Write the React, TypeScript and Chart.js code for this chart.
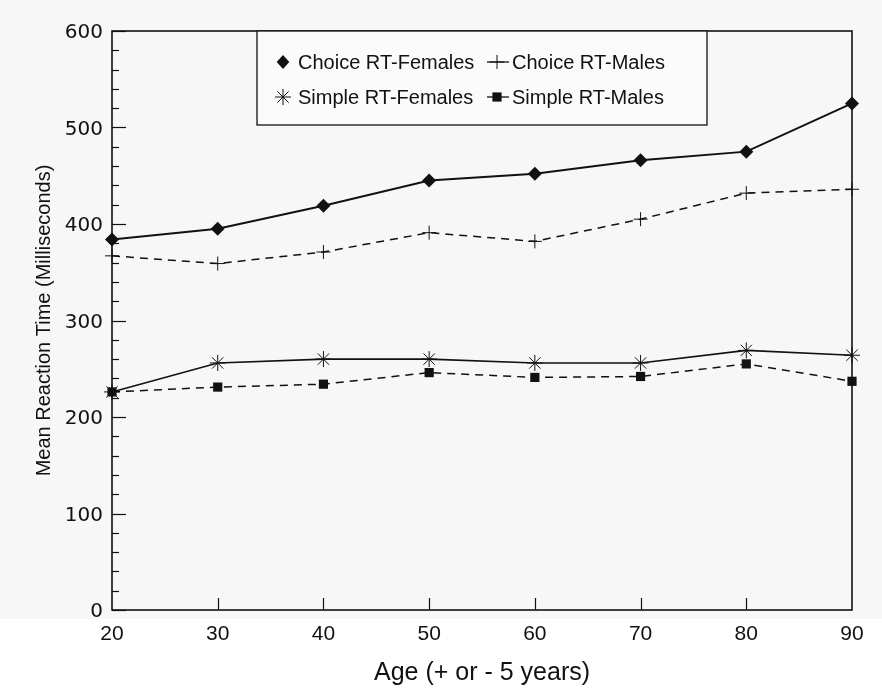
import React, { useEffect, useRef } from "react";
import { Chart, registerables } from "chart.js";

Chart.register(...registerables);

// ---- Data ----
const ages = [20, 30, 40, 50, 60, 70, 80, 90];
const choiceFemales = [384, 395, 419, 445, 452, 466, 475, 525];
const choiceMales = [367, 359, 371, 391, 382, 405, 432, 436];
const simpleFemales = [226, 256, 260, 260, 256, 256, 269, 264];
const simpleMales = [226, 231, 234, 246, 241, 242, 255, 237];
const seriesLabels = [
  "Choice RT-Females",
  "Choice RT-Males",
  "Simple RT-Females",
  "Simple RT-Males",
];
const yMin = 0;
const yMax = 600;
const yMajorStep = 100;
const yMinorStep = 20;
const xMin = 20;
const xMax = 90;
const xStep = 10;

const INK = "#111111";

function drawMarker(ctx: CanvasRenderingContext2D, style: string, x: number, y: number, r: number) {
  ctx.save();
  ctx.fillStyle = INK;
  ctx.strokeStyle = INK;
  ctx.setLineDash([]);
  ctx.beginPath();
  if (style === "rectRot") {
    ctx.moveTo(x, y - r);
    ctx.lineTo(x + r * 0.9, y);
    ctx.lineTo(x, y + r);
    ctx.lineTo(x - r * 0.9, y);
    ctx.closePath();
    ctx.fill();
  } else if (style === "cross") {
    ctx.lineWidth = 1;
    ctx.moveTo(x - r, y);
    ctx.lineTo(x + r, y);
    ctx.moveTo(x, y - r);
    ctx.lineTo(x, y + r);
    ctx.stroke();
  } else if (style === "star") {
    ctx.lineWidth = 1;
    ctx.moveTo(x - r, y);
    ctx.lineTo(x + r, y);
    ctx.moveTo(x, y - r);
    ctx.lineTo(x, y + r);
    const d = r * Math.SQRT1_2;
    ctx.moveTo(x - d, y - d);
    ctx.lineTo(x + d, y + d);
    ctx.moveTo(x - d, y + d);
    ctx.lineTo(x + d, y - d);
    ctx.stroke();
  } else {
    const s = r * Math.SQRT1_2;
    ctx.fillRect(x - s, y - s, 2 * s, 2 * s);
  }
  ctx.restore();
}

const framePlugin = {
  id: "frame",
  beforeDraw(chart: any) {
    const ctx = chart.ctx as CanvasRenderingContext2D;
    ctx.save();
    ctx.fillStyle = "#ffffff";
    ctx.fillRect(0, 0, chart.width, chart.height);
    ctx.fillStyle = "#f7f7f7";
    ctx.fillRect(0, 0, chart.width, 619);
    ctx.restore();
  },
  afterDraw(chart: any) {
    const ctx = chart.ctx as CanvasRenderingContext2D;
    const { left, right, top, bottom } = chart.chartArea;
    const xs = chart.scales.x;
    const ys = chart.scales.y;
    ctx.save();
    ctx.strokeStyle = INK;
    ctx.setLineDash([]);
    // inward ticks on y
    ctx.lineWidth = 1.2;
    for (let v = yMin; v <= yMax; v += yMinorStep) {
      const py = Math.round(ys.getPixelForValue(v)) + 0.5;
      const len = v % yMajorStep === 0 ? 14 : 7;
      ctx.beginPath();
      ctx.moveTo(left, py);
      ctx.lineTo(left + len, py);
      ctx.stroke();
    }
    // inward ticks on x
    for (let v = xMin + xStep; v < xMax; v += xStep) {
      const px = Math.round(xs.getPixelForValue(v)) + 0.5;
      ctx.beginPath();
      ctx.moveTo(px, bottom);
      ctx.lineTo(px, bottom - 12);
      ctx.stroke();
    }
    // frame
    ctx.lineWidth = 1.6;
    ctx.strokeRect(left, top, right - left, bottom - top);

    // legend box
    const lx = 257;
    const ly = top;
    const lw = 450;
    const lh = 94;
    ctx.fillStyle = "#fbfbfb";
    ctx.fillRect(lx, ly, lw, lh);
    ctx.lineWidth = 1.3;
    ctx.strokeRect(lx, ly, lw, lh);
    const cols = [lx + 26, lx + 240];
    const rows = [ly + 31, ly + 66];
    ctx.font = "20px 'Liberation Sans', Arial, sans-serif";
    ctx.textBaseline = "middle";
    ctx.textAlign = "left";
    chart.data.datasets.forEach((ds: any, i: number) => {
      const cx = cols[i % 2];
      const cy = rows[Math.floor(i / 2)];
      if (ds.borderDash && ds.borderDash.length) {
        ctx.save();
        ctx.strokeStyle = INK;
        ctx.lineWidth = 1.3;
        ctx.beginPath();
        ctx.moveTo(cx - 10, cy);
        ctx.lineTo(cx + 12, cy);
        ctx.stroke();
        ctx.restore();
      }
      drawMarker(ctx, ds.pointStyle, cx, cy, ds.pointRadius);
      ctx.fillStyle = INK;
      ctx.fillText(ds.label, cx + 15, cy + 1);
    });
    ctx.restore();
  },
};

function toPoints(vals: number[]) {
  return ages.map((a, i) => ({ x: a, y: vals[i] }));
}

export default function App() {
  const ref = useRef<HTMLCanvasElement | null>(null);
  useEffect(() => {
    if (!ref.current) return;
    const common = {
      borderColor: INK,
      backgroundColor: INK,
      pointBorderColor: INK,
      pointBackgroundColor: INK,
      clip: false as any,
      tension: 0,
    };
    const chart = new Chart(ref.current, {
      type: "line",
      data: {
        datasets: [
          { ...common, label: seriesLabels[0], data: toPoints(choiceFemales), borderWidth: 2, pointStyle: "rectRot", pointRadius: 7, pointBorderWidth: 0 },
          { ...common, label: seriesLabels[1], data: toPoints(choiceMales), borderWidth: 1.5, borderDash: [8, 6], pointStyle: "cross", pointRadius: 7, pointBorderWidth: 1 },
          { ...common, label: seriesLabels[2], data: toPoints(simpleFemales), borderWidth: 1.6, pointStyle: "star", pointRadius: 8, pointBorderWidth: 1 },
          { ...common, label: seriesLabels[3], data: toPoints(simpleMales), borderWidth: 1.5, borderDash: [8, 6], pointStyle: "rect", pointRadius: 6.5, pointBorderWidth: 0 },
        ] as any,
      },
      options: {
        animation: false,
        responsive: false,
        maintainAspectRatio: false,
        layout: { padding: { left: 0, top: 31, right: 30, bottom: 0 } },
        plugins: { legend: { display: false }, tooltip: { enabled: false } },
        scales: {
          x: {
            type: "linear",
            min: xMin,
            max: xMax,
            grid: { display: false, drawTicks: false },
            border: { display: false },
            ticks: {
              stepSize: xStep,
              padding: 12,
              color: INK,
              font: { family: "'Liberation Sans', Arial, sans-serif", size: 21 },
            },
            title: {
              display: true,
              text: "Age (+ or - 5 years)",
              color: INK,
              padding: { top: 0, bottom: 1 },
              font: { family: "'Liberation Sans', Arial, sans-serif", size: 25 },
            },
            afterFit: (s: any) => { s.height = 79; },
          },
          y: {
            type: "linear",
            min: yMin,
            max: yMax,
            grid: { display: false, drawTicks: false },
            border: { display: false },
            ticks: {
              stepSize: yMajorStep,
              padding: 9,
              labelOffset: 2,
              color: INK,
              font: { family: "'DejaVu Sans', Verdana, sans-serif", size: 20 },
            },
            title: {
              display: true,
              text: "Mean Reaction Time (Milliseconds)",
              color: INK,
              padding: { top: 32, bottom: 0 },
              font: { family: "'Liberation Sans', Arial, sans-serif", size: 20 },
            },
            afterFit: (s: any) => { s.width = 112; },
          },
        },
      } as any,
      plugins: [framePlugin],
    });
    return () => chart.destroy();
  }, []);
  return (
    <div style={{ position: "absolute", left: 0, top: 0, width: 882, height: 689 }}>
      <canvas ref={ref} width={882} height={689} style={{ width: 882, height: 689, display: "block" }} />
    </div>
  );
}
